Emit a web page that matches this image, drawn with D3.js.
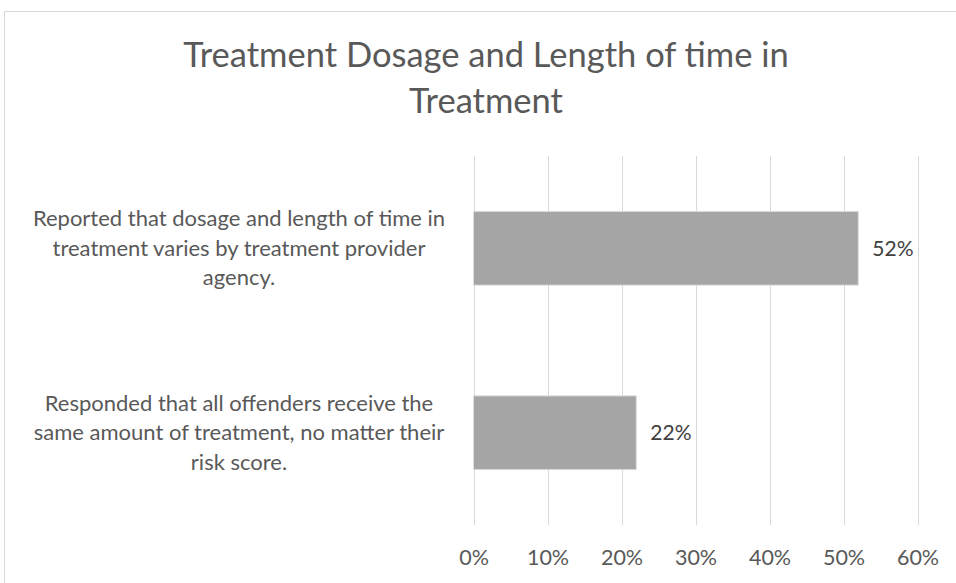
<!DOCTYPE html>
<html>
<head>
<meta charset="utf-8">
<script src="https://cdn.jsdelivr.net/npm/d3@7"></script>
<style>
  html, body { margin: 0; padding: 0; background: #ffffff; }
  svg { display: block; }
  text { font-family: Lato, "Open Sans", sans-serif; }
</style>
</head>
<body>
<svg id="chart" width="956" height="583"></svg>
<script>
// Survey responses on treatment dosage
const categories = [
  ["Reported that dosage and length of time in", "treatment varies by treatment provider", "agency."],
  ["Responded that all offenders receive the", "same amount of treatment, no matter their", "risk score."]
];
const values = [0.52, 0.22];
const tickValues = [0, 0.1, 0.2, 0.3, 0.4, 0.5, 0.6];
const titleLines = ["Treatment Dosage and Length of time in", "Treatment"];

const svg = d3.select("#chart");

// chart area outline
svg.append("rect")
  .attr("x", 4.5).attr("y", 11.5)
  .attr("width", 1000).attr("height", 1000)
  .attr("fill", "#ffffff")
  .attr("stroke", "#d9d9d9").attr("stroke-width", 1);

const plot = { left: 473.5, right: 917.5, top: 156, bottom: 525 };

const x = d3.scaleLinear().domain([0, 0.6]).range([plot.left, plot.right]);
const y = d3.scaleBand()
  .domain(d3.range(categories.length))
  .range([plot.top, plot.bottom])
  .paddingInner(0.6)
  .paddingOuter(0.3);

// title
svg.append("text")
  .attr("x", 486).attr("y", 67)
  .attr("text-anchor", "middle")
  .attr("fill", "#595959")
  .attr("font-size", 34.5)
  .selectAll("tspan")
  .data(titleLines)
  .join("tspan")
  .attr("x", 486)
  .attr("dy", (d, i) => i === 0 ? 0 : 46)
  .text(d => d);

// vertical gridlines
svg.append("g")
  .selectAll("line")
  .data(tickValues)
  .join("line")
  .attr("x1", d => Math.round(x(d)) + 0.5)
  .attr("x2", d => Math.round(x(d)) + 0.5)
  .attr("y1", plot.top).attr("y2", plot.bottom)
  .attr("stroke", "#d9d9d9").attr("stroke-width", 1);

// x axis labels
const xAxis = d3.axisBottom(x)
  .tickValues(tickValues)
  .tickFormat(d3.format(".0%"))
  .tickSize(0)
  .tickPadding(0);
const gx = svg.append("g")
  .attr("transform", `translate(0, ${plot.bottom})`)
  .call(xAxis);
gx.select(".domain").remove();
gx.selectAll("text")
  .attr("dy", null)
  .attr("y", 40)
  .attr("fill", "#595959")
  .attr("font-size", 21.5)
  .attr("font-family", "Lato, 'Open Sans', sans-serif");

// bars
svg.append("g")
  .selectAll("rect")
  .data(values)
  .join("rect")
  .attr("x", x(0))
  .attr("y", (d, i) => y(i))
  .attr("width", d => x(d) - x(0))
  .attr("height", y.bandwidth())
  .attr("fill", "#a5a5a5")
  .attr("stroke", "#dedede")
  .attr("stroke-width", 1);

// value labels
svg.append("g")
  .selectAll("text")
  .data(values)
  .join("text")
  .attr("x", d => x(d) + 14)
  .attr("y", (d, i) => y(i) + y.bandwidth() / 2 + 7.5)
  .attr("fill", "#404040")
  .attr("font-size", 21)
  .text(d => d3.format(".0%")(d));

// category labels
const lineGap = 29.5;
const cat = svg.append("g")
  .selectAll("text")
  .data(categories)
  .join("text")
  .attr("text-anchor", "middle")
  .attr("fill", "#595959")
  .attr("font-size", 22)
  .attr("y", (d, i) => y(i) + y.bandwidth() / 2 + 7.5 - lineGap * (d.length - 1) / 2);
cat.selectAll("tspan")
  .data(d => d)
  .join("tspan")
  .attr("x", 239)
  .attr("dy", (d, i) => i === 0 ? 0 : lineGap)
  .text(d => d);
</script>
</body>
</html>
